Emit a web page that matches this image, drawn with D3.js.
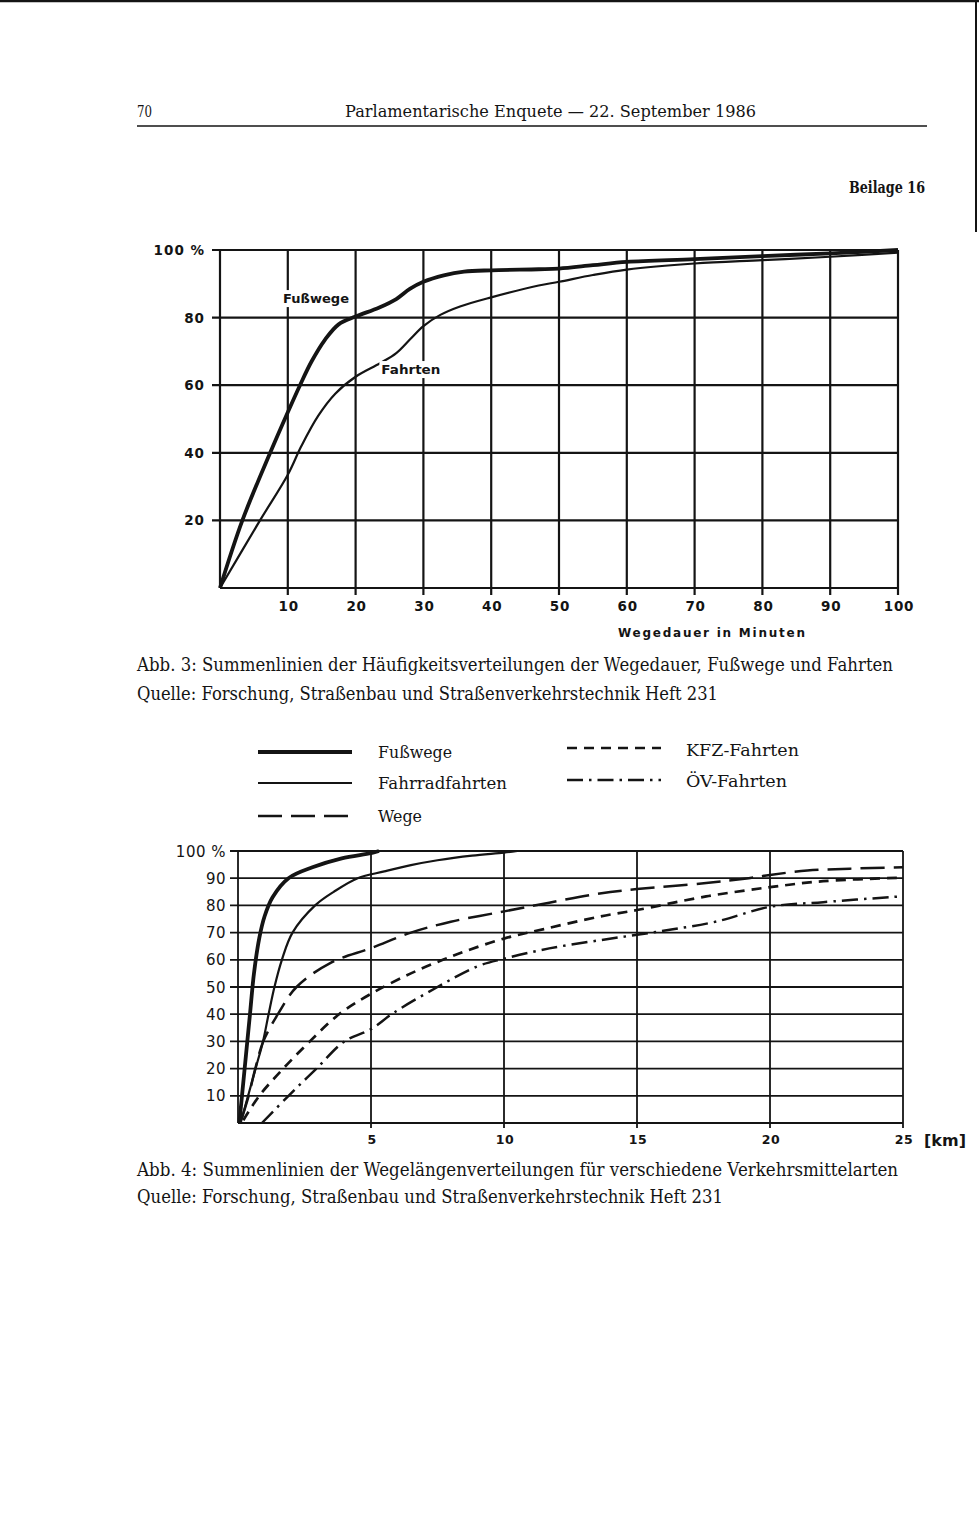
<!DOCTYPE html>
<html><head><meta charset="utf-8">
<script src="https://cdn.jsdelivr.net/npm/d3@7"></script>
<style>body{margin:0;background:#fff}svg{display:block}</style>
</head><body>
<script>
// ---------- Abb. 3 data (Wegedauer in Minuten, cumulative %) ----------
const minutesTicks = [10,20,30,40,50,60,70,80,90,100];
const percentTicks1 = [20,40,60,80,100];
const fusswegeDauerMin = [0,3.3,7.4,10,11.8,13.5,15.5,17.5,20,23.5,26,28,30,33,36,40,47,50,55,60,70,80,90,100];
const fusswegeDauerPct = [0,20,40,52,60,67,73.5,78,80.3,83,85.5,88.5,90.6,92.5,93.6,94,94.3,94.5,95.5,96.5,97.3,98.2,99,100];
const fahrtenDauerMin = [0,5.9,10,12,14.5,17,20,23.6,26,28,30,32.5,35.4,40,47,50,55,60,70,80,90,100];
const fahrtenDauerPct = [0,20,33.5,42,51,57.5,62.5,66.5,69.5,73.5,77.5,80.8,83.3,86,89.5,90.6,92.6,94.2,96,97,98,99.2];

// ---------- Abb. 4 data (Wegelänge in km, cumulative %) ----------
const kmTicks = [5,10,15,20,25];
const percentTicks2 = [10,20,30,40,50,60,70,80,90,100];
const fusswegeKm  = [0.05,0.15,0.3,0.45,0.6,0.8,1.0,1.3,1.9,2.8,3.9,5.0,5.3];
const fusswegePct = [0,10,25,40,55,68,76,83,90,94,97.3,99.2,100];
const fahrradKm   = [0.1,0.38,0.66,0.94,1.15,1.37,1.65,2.05,2.9,3.6,4.5,5.5,6.5,7.5,8.8,10.0,10.5];
const fahrradPct  = [0,10,20,30,40,50,60,70,80,85,90,92.5,94.8,96.6,98.3,99.4,100];
const wegeKm      = [0.15,0.4,0.65,0.95,1.5,2.2,3.5,5,6.5,8,10,11.7,13.6,15,17.6,19.2,20,21.4,23,25];
const wegePct     = [2,10,20,30,40,50,59,64.3,70,74,77.8,81,84.4,86,88.2,90,91.2,92.8,93.5,94];
const kfzKm       = [0.2,0.8,1.7,2.7,3.8,5,6.5,7.7,8.5,10,11.5,13.6,15,17.6,20,22,25];
const kfzPct      = [1,10,20,30,40,47.5,55,60,63,67.8,71.3,75.9,78.3,83.3,86.7,88.9,90.2];
const oevKm       = [0.9,1.9,2.95,4.0,5,5.85,7.5,9,10,11.7,13.6,15,16.35,18,20,22,24.9];
const oevPct      = [0,10,20,30,34.5,40.5,50,57.6,60.4,64.2,67.2,69.2,71.2,74.1,79.5,81.2,83.3];

const legendLabels = ["Fußwege","Fahrradfahrten","Wege","KFZ-Fahrten","ÖV-Fahrten"];

const zip = (a,b) => a.map((v,i)=>[v,b[i]]);
const INK = "#141414";
const W = 979, H = 1536;
const svg = d3.select("body").append("svg").attr("width",W).attr("height",H);
svg.append("rect").attr("width",W).attr("height",H).attr("fill","#fff");

// scan edges
svg.append("line").attr("x1",0).attr("x2",W).attr("y1",1).attr("y2",1).attr("stroke",INK).attr("stroke-width",2.5);
svg.append("line").attr("x1",976).attr("x2",976).attr("y1",0).attr("y2",232).attr("stroke",INK).attr("stroke-width",2);

const serif = "'DejaVu Serif', serif";
const sans = "'DejaVu Sans', sans-serif";
function stext(t,x,y,size,len,opts={}){
  const el = svg.append("text").attr("x",x).attr("y",y).text(t)
    .attr("font-family",opts.family||serif).attr("font-size",size).attr("fill",INK)
    .attr("font-weight",opts.weight||"normal");
  if(len){ el.attr("textLength",len).attr("lengthAdjust","spacingAndGlyphs"); }
  return el;
}
// ---------- header ----------
stext("70",137,117,17,15);
stext("Parlamentarische Enquete — 22. September 1986",345,117,17,411);
svg.append("line").attr("x1",137).attr("x2",927).attr("y1",126).attr("y2",126).attr("stroke",INK).attr("stroke-width",1.4);
stext("Beilage 16",849,193,17,76,{weight:"bold"});

// ================= Abb. 3 =================
const x1 = d3.scaleLinear().domain([0,100]).range([220,898]);
const y1 = d3.scaleLinear().domain([0,100]).range([588,250]);
const g1 = svg.append("g");

g1.selectAll("line.h").data([0].concat(percentTicks1)).join("line")
  .attr("x1",d=> d===0 ? x1(0) : x1(0)-8).attr("x2",x1(100))
  .attr("y1",d=>y1(d)).attr("y2",d=>y1(d))
  .attr("stroke",INK).attr("stroke-width",2.2);
g1.selectAll("line.v").data([0].concat(minutesTicks)).join("line")
  .attr("x1",d=>x1(d)).attr("x2",d=>x1(d))
  .attr("y1",y1(100)).attr("y2",d=> d===0 ? y1(0) : y1(0)+7)
  .attr("stroke",INK).attr("stroke-width",2.2);

g1.selectAll("text.yl").data(percentTicks1).join("text")
  .attr("x",x1(0)-15).attr("y",d=>y1(d)+5)
  .attr("text-anchor","end").attr("font-family",sans).attr("font-weight","bold")
  .attr("font-size",13.5).attr("letter-spacing",1).attr("fill",INK)
  .text(d=> d===100 ? "100 %" : d);
g1.selectAll("text.xl").data(minutesTicks).join("text")
  .attr("x",d=>x1(d)+1).attr("y",y1(0)+23)
  .attr("text-anchor","middle").attr("font-family",sans).attr("font-weight","bold")
  .attr("font-size",13.5).attr("letter-spacing",0.8).attr("fill",INK)
  .text(d=>d);
g1.append("text").attr("x",618).attr("y",637).text("Wegedauer  in  Minuten")
  .attr("font-family",sans).attr("font-weight","bold").attr("font-size",12)
  .attr("fill",INK).attr("textLength",187).attr("lengthAdjust","spacing");

const line1 = d3.line().x(d=>x1(d[0])).y(d=>y1(d[1])).curve(d3.curveCatmullRom.alpha(0.5));
g1.append("path").attr("d",line1(zip(fahrtenDauerMin,fahrtenDauerPct)))
  .attr("fill","none").attr("stroke",INK).attr("stroke-width",2.2);
g1.append("path").attr("d",line1(zip(fusswegeDauerMin,fusswegeDauerPct)))
  .attr("fill","none").attr("stroke",INK).attr("stroke-width",3.8);

function boxLabel(g,t,x,y,len){
  const r = g.append("rect").attr("fill","#fff");
  const tx = g.append("text").attr("x",x).attr("y",y).text(t)
    .attr("font-family",sans).attr("font-weight","bold").attr("font-size",13)
    .attr("fill",INK).attr("textLength",len).attr("lengthAdjust","spacingAndGlyphs");
  const b = tx.node().getBBox();
  r.attr("x",b.x-2).attr("y",b.y-1).attr("width",b.width+4).attr("height",b.height+2);
}
boxLabel(g1,"Fußwege",x1(9.3),y1(84.3),66);
boxLabel(g1,"Fahrten",x1(23.8),y1(63.3),59);

stext("Abb. 3: Summenlinien der Häufigkeitsverteilungen der Wegedauer, Fußwege und Fahrten",137,671,18,756);
stext("Quelle: Forschung, Straßenbau und Straßenverkehrstechnik Heft 231",137,700,18,581);

// ================= Legend of Abb. 4 =================
const styles = [
  {w:3.8, dash:null},
  {w:2.2, dash:null},
  {w:2.5, dash:"24,9"},
  {w:2.7, dash:"10,7"},
  {w:2.5, dash:"16,6,2.5,6"}
];
const legendPos = [
  {x:258,y:752,tx:378,ty:758,len:74},
  {x:258,y:783,tx:378,ty:789,len:129},
  {x:258,y:816,tx:378,ty:822,len:44},
  {x:567,y:748,tx:686,ty:756,len:113},
  {x:567,y:780,tx:686,ty:787,len:101}
];
legendLabels.forEach((lab,i)=>{
  const p = legendPos[i], s = styles[i];
  svg.append("line").attr("x1",p.x).attr("x2",p.x+94).attr("y1",p.y).attr("y2",p.y)
    .attr("stroke",INK).attr("stroke-width",s.w).attr("stroke-dasharray",s.dash);
  stext(lab,p.tx,p.ty,17,p.len);
});

// ================= Abb. 4 =================
const x2 = d3.scaleLinear().domain([0,25]).range([238,903]);
const y2 = d3.scaleLinear().domain([0,100]).range([1123,851]);
const g2 = svg.append("g");
g2.selectAll("line.h").data([0].concat(percentTicks2)).join("line")
  .attr("x1",d=> d===0 ? x2(0) : x2(0)-8).attr("x2",x2(25))
  .attr("y1",d=>y2(d)).attr("y2",d=>y2(d))
  .attr("stroke",INK).attr("stroke-width",1.8);
g2.selectAll("line.v").data([0].concat(kmTicks)).join("line")
  .attr("x1",d=>x2(d)).attr("x2",d=>x2(d))
  .attr("y1",y2(100)).attr("y2",d=> d===0 ? y2(0) : y2(0)+5)
  .attr("stroke",INK).attr("stroke-width",1.8);

g2.selectAll("text.yl").data(percentTicks2).join("text")
  .attr("x",x2(0)-12).attr("y",d=>y2(d)+5.5)
  .attr("text-anchor","end").attr("font-family",sans)
  .attr("font-size",15).attr("letter-spacing",0.5).attr("fill",INK)
  .text(d=> d===100 ? "100 %" : d);
g2.selectAll("text.xl").data(kmTicks).join("text")
  .attr("x",d=>x2(d)+1).attr("y",y2(0)+21)
  .attr("text-anchor","middle").attr("font-family",sans).attr("font-weight","bold")
  .attr("font-size",12.5).attr("letter-spacing",0.5).attr("fill",INK)
  .text(d=>d);
g2.append("text").attr("x",x2(25)+21).attr("y",y2(0)+23).text("[km]")
  .attr("font-family",sans).attr("font-weight","bold").attr("font-size",16).attr("fill",INK);

const line2 = d3.line().x(d=>x2(d[0])).y(d=>y2(d[1])).curve(d3.curveCatmullRom.alpha(0.5));
const series2 = [
  zip(fusswegeKm,fusswegePct),
  zip(fahrradKm,fahrradPct),
  zip(wegeKm,wegePct),
  zip(kfzKm,kfzPct),
  zip(oevKm,oevPct)
];
series2.forEach((d,i)=>{
  g2.append("path").attr("d",line2(d)).attr("fill","none")
    .attr("stroke",INK).attr("stroke-width",styles[i].w)
    .attr("stroke-dasharray",styles[i].dash);
});

stext("Abb. 4: Summenlinien der Wegelängenverteilungen für verschiedene Verkehrsmittelarten",137,1176,18,761);
stext("Quelle: Forschung, Straßenbau und Straßenverkehrstechnik Heft 231",137,1203,18,586);
</script>
</body></html>
